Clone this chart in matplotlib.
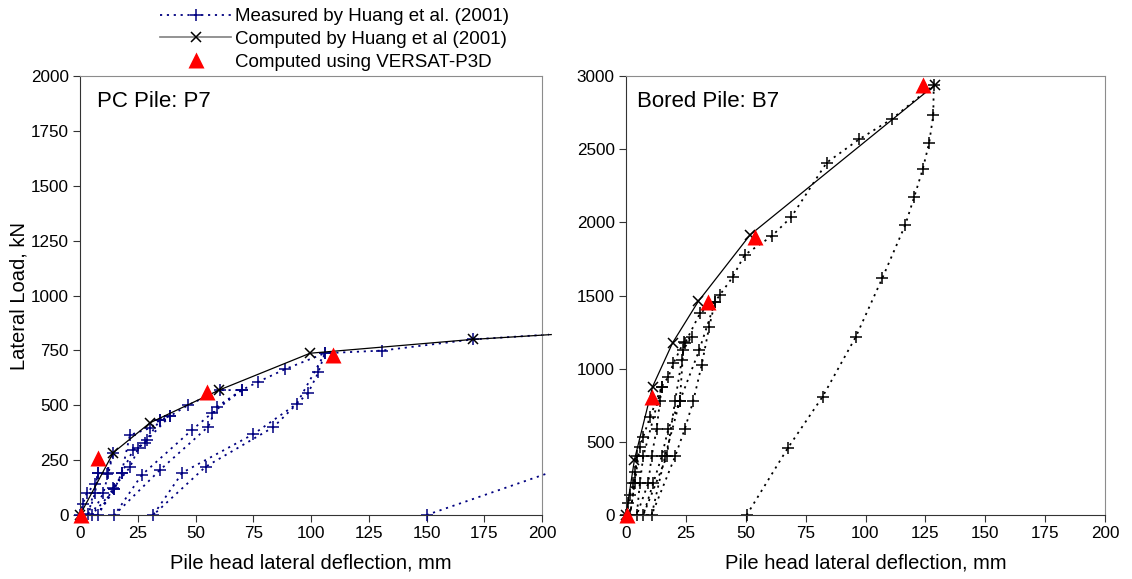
import numpy as np
import matplotlib
matplotlib.use("Agg")
import matplotlib.pyplot as plt
from matplotlib.lines import Line2D

plt.rcParams['font.family'] = ['Liberation Sans', 'DejaVu Sans']

# ---- PC pile P7 (left) ----
# measured, load-unload cycles; nan splits the last unloading branch
p7_meas_x = [0, 1.2, 2.9, 6.5, 7.9, 6.5, 3.6,
             7.9, 11.5, 14.4, 12.3, 10.1, 5.0,
             14.9, 18.0, 21.6, 30.3, 34.6, 39.0,
             28.9, 25.3, 21.6, 14.4, 7.6,
             14.9, 18.0, 23.0, 28.0, 34.6, 39.0, 46.9, 60.6, 70.0,
             59.2, 55.5, 34.6, 14.9,
             26.7, 48.4, 57.0, 70.0, 77.2, 88.7, 106.0,
             103.2, 98.8, 83.7, 54.4, 31.7,
             44.3, 75.0, 93.8, 106.0, 130.6, 170.0, 203.0,
             np.nan, 150.0, 203.0]
p7_meas_y = [0, 50, 99, 141, 190, 99, 3,
             190, 187, 284, 190, 99, 0,
             117, 190, 364, 396, 433, 451,
             341, 305, 217, 123, 0,
             117, 190, 296, 328, 433, 451, 501, 569, 569,
             493, 402, 205, 0,
             182, 387, 463, 569, 607, 664, 737,
             650, 557, 400, 220, 0,
             193, 368, 506, 737, 749, 800, 822,
             np.nan, 0, 192]
p7_comp_x = [0, 14.4, 30.3, 60.2, 99.6, 170.0, 204.0]
p7_comp_y = [0, 284, 420, 569, 737, 800, 822]
p7_versat_x = [0.4, 7.9, 55.1, 109.7]
p7_versat_y = [0, 258, 562, 729]

# ---- Bored pile B7 (right) ----
b7_meas_x = [0, 1.0, 1.7, 3.0, 3.8, 4.5,
             3.6, 1.7,
             5.8, 7.2, 10.0, 14.9,
             14.2, 12.8, 10.7, 9.3, 4.5,
             5.8, 7.2, 14.9, 17.7, 19.8, 24.2, 27.4,
             23.9, 22.5, 17.7, 14.9, 11.4, 7.2,
             17.0, 20.5, 23.3, 24.6, 30.9, 37.2,
             34.7, 31.6, 28.1, 24.6, 20.5, 10.7,
             16.3, 22.5, 30.6, 37.2, 39.2, 44.5, 49.5, 60.8, 69.0, 83.8, 97.4, 110.9, 128.5,
             128.3, 126.6, 123.9, 120.3, 116.6, 107.0, 96.0, 82.1, 67.5, 50.4]
b7_meas_y = [0, 82, 137, 219, 296, 400,
             219, 0,
             467, 535, 668, 877,
             780, 590, 400, 219, 0,
             219, 400, 877, 945, 1037, 1185, 1219,
             1128, 780, 590, 400, 219, 0,
             400, 780, 1059, 1173, 1379, 1458,
             1283, 1025, 780, 590, 400, 0,
             400, 780, 1128, 1458, 1504, 1625, 1777, 1905, 2036, 2408, 2568, 2705, 2939,
             2734, 2545, 2363, 2171, 1982, 1618, 1219, 809, 456, 0]
b7_comp_x = [0, 3.5, 11.1, 19.5, 30.2, 51.8, 129.0]
b7_comp_y = [0, 376, 877, 1178, 1460, 1914, 2939]
b7_versat_x = [0.5, 10.7, 34.4, 53.9, 124.1]
b7_versat_y = [0, 809, 1458, 1902, 2939]

W, H = 1132, 579
fig = plt.figure(figsize=(W / 100, H / 100), dpi=100)
ax1 = fig.add_axes([80 / W, 1 - 515 / H, 462 / W, 439 / H])
ax2 = fig.add_axes([626 / W, 1 - 515 / H, 479 / W, 439 / H])

dots = (0, (1.2, 2.6))


def inside(xs):
    # no marker where the line runs past the x axis end
    return [not (x > 200) for x in xs]


def draw(ax, mx, my, mcol, cx, cy, vx, vy):
    ax.plot(mx, my, linestyle=dots, lw=1.3, color=mcol, marker='+',
            ms=8, mew=1.1, markevery=inside(mx), clip_on=False, zorder=2)
    ax.plot(cx, cy, '-', color='black', lw=0.9, marker='x', ms=7,
            mew=1.1, markevery=inside(cx), clip_on=False, zorder=3)
    ax.plot(vx, vy, '^', color='#ff0000', ms=12, mec='none',
            linestyle='none', clip_on=False, zorder=4)
    for s in ['left', 'bottom']:
        ax.spines[s].set_color('#333333')
    for s in ['top', 'right']:
        ax.spines[s].set_color('#8c8c8c')
    ax.tick_params(direction='out', length=5, color='#333333',
                   labelsize=12.3, pad=3)
    ax.set_xlim(0, 200)
    ax.set_xticks(np.arange(0, 201, 25))
    ax.set_xlabel('Pile head lateral deflection, mm', fontsize=14.5, labelpad=9)


draw(ax1, p7_meas_x, p7_meas_y, '#000080', p7_comp_x, p7_comp_y,
     p7_versat_x, p7_versat_y)
ax1.set_ylim(0, 2000)
ax1.set_yticks(np.arange(0, 2001, 250))
ax1.set_ylabel('Lateral Load, kN', fontsize=14.5, labelpad=2)
ax1.text(0.037, 0.942, 'PC Pile: P7', transform=ax1.transAxes,
         fontsize=16, va='center', ha='left')

draw(ax2, b7_meas_x, b7_meas_y, 'black', b7_comp_x, b7_comp_y,
     b7_versat_x, b7_versat_y)
ax2.set_ylim(0, 3000)
ax2.set_yticks(np.arange(0, 3001, 500))
ax2.text(0.023, 0.942, 'Bored Pile: B7', transform=ax2.transAxes,
         fontsize=16, va='center', ha='left')

handles = [
    Line2D([], [], linestyle=dots, lw=1.3, color='#000080', marker='+',
           ms=8, mew=1.1),
    Line2D([], [], linestyle='-', lw=1.2, color='#808080', marker='x',
           ms=7, mew=1.1, mfc='black', mec='black'),
    Line2D([], [], linestyle='none', color='#ff0000', marker='^', ms=12,
           mec='none'),
]
labels = ['Measured by Huang et al. (2001)',
          'Computed by Huang et al (2001)',
          'Computed using VERSAT-P3D']
fig.legend(handles, labels, loc='upper left',
           bbox_to_anchor=(160 / W, 1 - 8 / H), frameon=False,
           fontsize=13.5, handlelength=3.8, handletextpad=0.2,
           labelspacing=0.3, borderpad=0, borderaxespad=0)

fig.savefig('out.png', dpi=100)
